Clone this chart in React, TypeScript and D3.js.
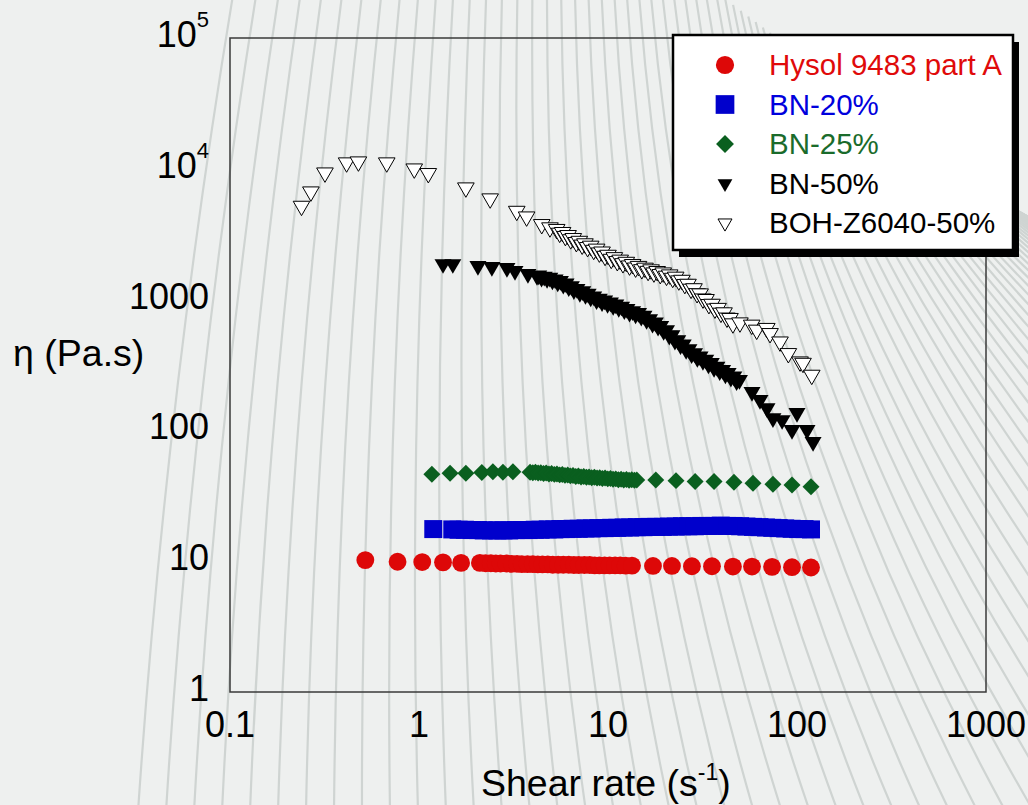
import * as d3 from "d3";

const W = 1028;
const H = 805;
const MARGIN = { top: 38, right: 42, bottom: 113, left: 230 };
const FONT = "'Liberation Sans', Arial, Helvetica, sans-serif";

// axis ticks
const xTicks = [0.1, 1, 10, 100, 1000];
const xTickLabels = ["0.1", "1", "10", "100", "1000"];
const yTicks = [1, 10, 100, 1000, 1e4, 1e5];
const yTickBase = ["1", "10", "100", "1000", "10", "10"];
const yTickSup = ["", "", "", "", "4", "5"];

// data: [shear rate (1/s), viscosity (Pa.s)]
const hysol: [number, number][] = [
  [0.52, 10.2], [0.77, 9.9], [1.04, 9.85], [1.34, 9.8], [1.67, 9.7],
  [2.1, 9.7], [2.25, 9.65], [2.4, 9.65], [2.55, 9.6], [2.7, 9.6],
  [2.9, 9.6], [3.1, 9.55], [3.3, 9.55], [3.5, 9.5], [3.75, 9.5],
  [4.0, 9.5], [4.25, 9.45], [4.5, 9.45], [4.8, 9.45], [5.1, 9.4],
  [5.45, 9.4], [5.8, 9.4], [6.2, 9.4], [6.6, 9.35], [7.0, 9.35],
  [7.5, 9.35], [8.0, 9.35], [8.5, 9.3], [9.0, 9.3], [9.6, 9.3],
  [10.2, 9.3], [10.9, 9.3], [11.6, 9.3], [12.4, 9.25], [13.4, 9.25],
  [17.3, 9.2], [21.8, 9.2], [27.8, 9.15], [35.5, 9.15], [45.8, 9.1],
  [57.8, 9.1], [73.8, 9.05], [94.1, 9.0], [118.6, 8.95],
];

const bn20: [number, number][] = [
  [1.19, 17.6], [1.5, 17.5], [1.62, 17.4], [1.75, 17.4], [1.9, 17.3],
  [2.05, 17.3], [2.2, 17.2], [2.4, 17.2], [2.6, 17.2], [2.8, 17.2],
  [3.0, 17.2], [3.25, 17.3], [3.5, 17.3], [3.8, 17.3], [4.1, 17.4],
  [4.4, 17.4], [4.8, 17.5], [5.2, 17.5], [5.6, 17.6], [6.0, 17.6],
  [6.5, 17.7], [7.0, 17.7], [7.6, 17.8], [8.2, 17.8], [8.9, 17.9],
  [9.6, 17.9], [10.4, 18.0], [11.2, 18.0], [12.1, 18.1], [13.1, 18.1],
  [14.2, 18.2], [15.4, 18.2], [16.6, 18.3], [18.0, 18.3], [19.5, 18.3],
  [21.0, 18.4], [22.8, 18.4], [24.6, 18.5], [26.6, 18.5], [28.8, 18.5],
  [31.2, 18.6], [33.7, 18.6], [36.5, 18.6], [39.5, 18.7], [42.7, 18.6],
  [46.2, 18.6], [50.0, 18.5], [54.0, 18.4], [58.5, 18.3], [63.3, 18.2],
  [68.5, 18.1], [74.0, 18.0], [80.0, 17.9], [86.6, 17.8], [93.7, 17.7],
  [101.3, 17.6], [109.6, 17.6], [118.6, 17.5],
];

const bn25: [number, number][] = [
  [1.17, 46.2], [1.46, 47.0], [1.77, 47.0], [2.15, 47.7], [2.46, 48.2],
  [2.78, 47.9], [3.14, 48.2], [3.87, 47.9], [4.0, 47.4], [4.13, 47.8],
  [4.27, 47.2], [4.41, 47.5], [4.56, 46.8], [4.71, 47.2], [4.87, 46.5],
  [5.03, 46.8], [5.2, 46.1], [5.37, 46.4], [5.55, 45.7], [5.73, 46.0],
  [5.92, 45.3], [6.12, 45.6], [6.32, 44.9], [6.53, 45.2], [6.75, 44.5],
  [6.97, 44.8], [7.2, 44.1], [7.44, 44.4], [7.69, 43.8], [7.94, 44.1],
  [8.2, 43.5], [8.47, 43.8], [8.75, 43.2], [9.04, 43.5], [9.34, 42.9],
  [9.65, 43.2], [9.97, 42.6], [10.3, 42.9], [10.64, 42.3], [10.99, 42.6],
  [11.35, 42.0], [11.73, 42.3], [12.12, 41.8], [12.52, 42.1], [12.93, 41.6],
  [13.36, 41.9], [13.8, 41.5], [14.2, 41.8], [17.9, 41.8], [22.9, 41.3],
  [28.9, 40.6], [36.4, 40.6], [46.4, 40.1], [58.5, 39.4], [74.6, 38.7],
  [94.1, 38.2], [118.6, 37.1],
];

const bn50: [number, number][] = [
  [1.34, 1870], [1.51, 1870], [2.05, 1806], [2.43, 1775], [2.92, 1746],
  [3.22, 1656], [3.77, 1570], [4.21, 1515], [4.3, 1530], [4.45, 1470],
  [4.6, 1500], [4.76, 1440], [4.92, 1470], [5.08, 1400], [5.25, 1430],
  [5.42, 1355], [5.6, 1390], [5.8, 1300], [6.0, 1330], [6.2, 1245],
  [6.4, 1265], [6.6, 1180], [6.85, 1205], [7.1, 1125], [7.35, 1160],
  [7.6, 1085], [7.85, 1110], [8.1, 1040], [8.4, 1060], [8.7, 990],
  [9.0, 1015], [9.3, 955], [9.6, 985], [9.95, 925], [10.3, 950],
  [10.65, 895], [11.0, 920], [11.4, 865], [11.8, 885], [12.2, 830],
  [12.6, 850], [13.0, 795], [13.5, 815], [14.0, 770], [14.5, 790],
  [15.0, 740], [15.5, 755], [16.0, 700], [16.6, 710], [17.2, 655],
  [17.8, 670], [18.4, 620], [19.0, 630], [19.7, 575], [20.4, 585],
  [21.1, 530], [21.8, 535], [22.6, 485], [23.4, 490], [24.2, 448],
  [25.0, 455], [25.9, 412], [26.8, 418], [27.7, 383], [28.7, 390],
  [29.7, 358], [30.7, 368], [31.8, 340], [32.9, 348], [34.0, 320],
  [35.2, 328], [36.4, 300], [37.7, 307], [39.0, 284], [40.4, 290],
  [41.8, 268], [43.2, 275], [44.7, 253], [46.3, 259], [47.9, 238],
  [49.6, 243], [57.8, 197], [63.7, 171], [69.4, 148], [74.6, 124],
  [83.4, 120], [94.1, 101], [100, 136], [113, 101], [121.6, 81.5],
];

const boh: [number, number][] = [
  [0.239, 5190], [0.268, 6680], [0.318, 9330], [0.414, 11140], [0.478, 11330],
  [0.675, 11140], [0.944, 10010], [1.12, 9230], [1.77, 7170], [2.38, 5910],
  [3.29, 4750], [3.71, 4300], [4.46, 3760], [4.93, 3550], [5.35, 3450],
  [5.55, 3230], [5.75, 3270], [5.95, 3050], [6.15, 3100], [6.35, 2880],
  [6.55, 2940], [6.8, 2740], [7.05, 2800], [7.3, 2620], [7.55, 2680],
  [7.8, 2510], [8.1, 2570], [8.4, 2390], [8.7, 2440], [9.0, 2280],
  [9.3, 2320], [9.65, 2150], [10.0, 2190], [10.4, 2040], [10.8, 2100],
  [11.2, 1960], [11.6, 2010], [12.0, 1890], [12.5, 1935], [13.0, 1815],
  [13.5, 1860], [14.0, 1750], [14.5, 1800], [15.1, 1700], [15.7, 1745],
  [16.3, 1650], [16.9, 1695], [17.5, 1605], [18.2, 1645], [18.9, 1560],
  [19.6, 1605], [20.4, 1515], [21.2, 1550], [22.0, 1460], [22.8, 1490],
  [23.7, 1395], [24.6, 1410], [25.5, 1310], [26.5, 1315], [27.5, 1205],
  [28.5, 1215], [29.6, 1115], [30.7, 1110], [31.8, 1015], [33.0, 1005],
  [34.2, 920], [35.5, 925], [36.8, 850], [38.2, 860], [39.6, 790],
  [41.1, 795], [42.6, 725], [44.2, 720], [45.8, 655], [49.9, 666],
  [57.6, 640], [61.2, 586], [69.2, 604], [72.0, 552], [81.3, 476],
  [90.0, 388], [103.8, 335], [107.6, 327], [119.7, 265],
];

const seriesNames = ["Hysol 9483 part A", "BN-20%", "BN-25%", "BN-50%", "BOH-Z6040-50%"];
const seriesData = [hysol, bn20, bn25, bn50, boh];

type Marker = { path: string; fill: string; stroke: string; rotate: number };

const markerStyles: Marker[] = [
  { path: d3.symbol(d3.symbolCircle, 250)()!, fill: "#dd0808", stroke: "none", rotate: 0 },
  { path: d3.symbol(d3.symbolSquare, 324)()!, fill: "#0000cc", stroke: "none", rotate: 0 },
  { path: d3.symbol(d3.symbolSquare, 144)()!, fill: "#0a5f1f", stroke: "none", rotate: 45 },
  { path: d3.symbol(d3.symbolTriangle, 125)()!, fill: "#000000", stroke: "none", rotate: 180 },
  { path: d3.symbol(d3.symbolTriangle, 120)()!, fill: "#ffffff", stroke: "#000000", rotate: 180 },
];
const legendMarkers: Marker[] = [
  { path: d3.symbol(d3.symbolCircle, 260)()!, fill: "#dd0808", stroke: "none", rotate: 0 },
  { path: d3.symbol(d3.symbolSquare, 350)()!, fill: "#0000cc", stroke: "none", rotate: 0 },
  { path: d3.symbol(d3.symbolSquare, 160)()!, fill: "#0a5f1f", stroke: "none", rotate: 45 },
  { path: d3.symbol(d3.symbolTriangle, 95)()!, fill: "#000000", stroke: "none", rotate: 180 },
  { path: d3.symbol(d3.symbolTriangle, 85)()!, fill: "#ffffff", stroke: "#000000", rotate: 180 },
];
const legendTextColors = ["#e00a0a", "#0000dd", "#1a6b2b", "#000000", "#000000"];

// decorative fan of background lines: top ends walk along the top edge and
// then down a diagonal band toward the right edge
function topPoint(s: number): [number, number] {
  const firstLen = 720 - 233;
  if (s <= firstLen) return [233 + s, -5];
  const bx = 430;
  const by = 325;
  const len = Math.hypot(bx, by);
  const t = (s - firstLen) / len;
  return [720 + bx * t, -5 + by * t];
}
const bgLines = d3.range(82).map((i) => {
  const s = 19.5 * 27 * (1 - Math.exp(-i / 27)) + 4 * i;
  const [xt, yt] = topPoint(s);
  const xb = 138 + 28 * i;
  const yb = 812;
  const dx = xb - xt;
  const bulge = 10 + 0.1 * Math.min(Math.max(0, dx), 400);
  const cx = (xt + xb) / 2 - 2 * bulge;
  const cy = (yt + yb) / 2;
  return `M${xt},${yt}Q${cx},${cy} ${xb},${yb}`;
});

export default function App() {
  const boundsWidth = W - MARGIN.left - MARGIN.right;
  const boundsHeight = H - MARGIN.top - MARGIN.bottom;

  const xScale = d3.scaleLog().domain([0.1, 1000]).range([MARGIN.left, MARGIN.left + boundsWidth]);
  const yScale = d3.scaleLog().domain([1, 1e5]).range([MARGIN.top + boundsHeight, MARGIN.top]);

  const legend = { x: 673, y: 35, w: 340, h: 215 };

  return (
    <svg
      width={W}
      height={H}
      style={{ position: "absolute", left: 0, top: 0, display: "block" }}
      fontFamily={FONT}
    >
      <rect x={0} y={0} width={W} height={H} fill="#eef0ef" />
      <g fill="none" stroke="#cfd4d2" strokeWidth={2.2}>
        {bgLines.map((d, i) => (
          <path key={i} d={d} />
        ))}
      </g>

      {/* plot frame */}
      <rect
        x={MARGIN.left}
        y={MARGIN.top}
        width={boundsWidth}
        height={boundsHeight}
        fill="none"
        stroke="#3a3a3a"
        strokeWidth={1.5}
      />

      {/* data */}
      {seriesData.map((data, s) => {
        const m = markerStyles[s];
        return (
          <g key={s}>
            {data.map(([x, y], j) => (
              <path
                key={j}
                d={m.path}
                transform={`translate(${xScale(x)},${yScale(y)}) rotate(${m.rotate})`}
                fill={m.fill}
                stroke={m.stroke}
                strokeWidth={1}
              />
            ))}
          </g>
        );
      })}

      {/* x tick labels */}
      {xTicks.map((t, i) => (
        <text key={i} x={xScale(t)} y={737} textAnchor="middle" fontSize={36} fill="#000">
          {xTickLabels[i]}
        </text>
      ))}

      {/* y tick labels */}
      {yTicks.map((t, i) => (
        <text key={i} x={209} y={yScale(t) + 9} textAnchor="end" fontSize={36} fill="#000">
          <tspan>{yTickBase[i]}</tspan>
          {yTickSup[i] && (
            <tspan dy={-20} fontSize={22}>
              {yTickSup[i]}
            </tspan>
          )}
        </text>
      ))}

      {/* axis titles */}
      <text x={13} y={366} fontSize={37.5} fill="#000">
        η (Pa.s)
      </text>
      <text x={481} y={796} fontSize={37.5} fill="#000">
        <tspan>Shear rate (s</tspan>
        <tspan dy={-16} fontSize={23}>-1</tspan>
        <tspan dy={16}>)</tspan>
      </text>

      {/* legend */}
      <rect x={legend.x + 6} y={legend.y + 7} width={legend.w} height={legend.h} fill="#000" />
      <rect
        x={legend.x}
        y={legend.y}
        width={legend.w}
        height={legend.h}
        fill="#fff"
        stroke="#000"
        strokeWidth={2.5}
      />
      {seriesNames.map((name, i) => {
        const m = legendMarkers[i];
        const base = 75 + 39.5 * i;
        return (
          <g key={name}>
            <path
              d={m.path}
              transform={`translate(725,${base - 10}) rotate(${m.rotate})`}
              fill={m.fill}
              stroke={m.stroke}
              strokeWidth={1}
            />
            <text x={769} y={base} fontSize={29.5} fill={legendTextColors[i]}>
              {name}
            </text>
          </g>
        );
      })}
    </svg>
  );
}
